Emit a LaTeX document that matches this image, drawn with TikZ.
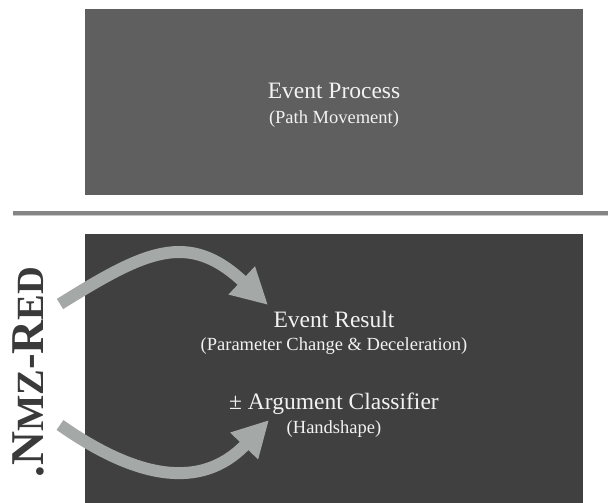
\documentclass[tikz,border=0pt]{standalone}
\usepackage{fontspec}
\setmainfont{Liberation Serif}
\usetikzlibrary{arrows.meta}
\definecolor{procfill}{HTML}{5F5F5F}
\definecolor{resfill}{HTML}{404040}
\definecolor{rulegray}{HTML}{858585}
\definecolor{ruleedge}{HTML}{C8C8C8}
\definecolor{arrowgray}{HTML}{A4A8A6}
\definecolor{labelgray}{HTML}{3A3A3A}
\definecolor{textwhite}{HTML}{F2F2F2}

\begin{document}
\begin{tikzpicture}[x=1pt,y=-1pt,
  panel/.style={draw=none,inner sep=0pt,outer sep=0pt,anchor=north west},
  headline/.style={text=textwhite,font=\fontsize{23.5}{28}\selectfont,anchor=base,inner sep=0pt},
  subline/.style={text=textwhite,font=\fontsize{18.5}{22}\selectfont,anchor=base,inner sep=0pt},
  flow/.style={draw=arrowgray,line width=12pt,-{Triangle[length=36pt,width=36pt]}}]
\useasboundingbox (0,0) rectangle (608,503);

% the two panels
\node[panel,fill=procfill,minimum width=498pt,minimum height=186pt] (procpanel) at (85,9) {};
\node[panel,fill=resfill,minimum width=498pt,minimum height=269pt] (respanel) at (85,234) {};

% separating rule
\coordinate (ruleL) at (13,213);
\coordinate (ruleR) at (608,213);
\draw[line width=5pt,ruleedge] (ruleL) -- (ruleR);
\draw[line width=3.2pt,rulegray] (ruleL) -- (ruleR);

% panel texts
\node[headline] (process) at (334,99) {Event Process};
\node[subline] (path) at (334,123) {(Path Movement)};
\node[headline] (result) at (334,327) {Event Result};
\node[subline] (change) at (334,350) {(Parameter Change \& Deceleration)};
\node[headline] (classifier) at (334,409) {± Argument Classifier};
\node[subline] (hand) at (334,433) {(Handshape)};

% vertical label
\node[rotate=90,anchor=base,text=labelgray,inner sep=0pt,
      font=\bfseries\fontsize{47}{52}\selectfont] (nmz) at (43,372)
  {.N{\fontsize{38.5}{42}\selectfont MZ}-R{\fontsize{38.5}{42}\selectfont ED}};

% curved arrows
\coordinate (upTail) at (60,304);
\coordinate (upTip) at (268,305);
\coordinate (lowTail) at (60,425);
\coordinate (lowTip) at (269,420);
\draw[flow] (upTail) .. controls (145,251) and (188,230) .. (upTip);
\draw[flow] (lowTail) .. controls (134,477) and (200,492) .. (lowTip);
\end{tikzpicture}
\end{document}
